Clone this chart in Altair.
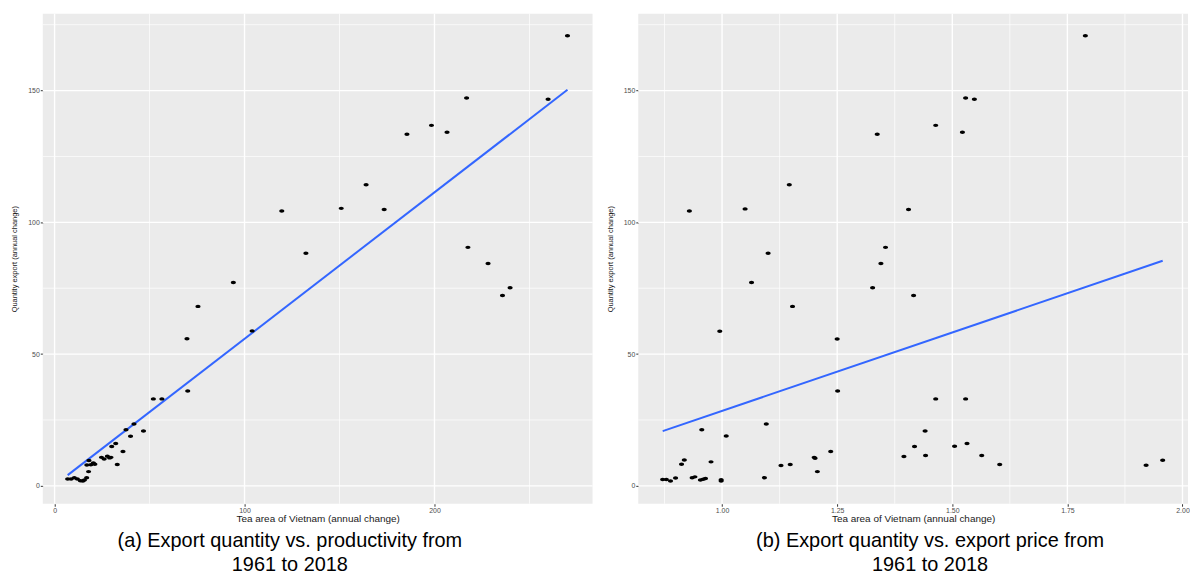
import altair as alt
import pandas as pd

# ---- data ----
left_x = [270.0, 259.8, 216.9, 198.4, 206.6, 185.5, 164.0, 150.9, 173.5, 119.6,
          132.3, 217.6, 228.2, 239.8, 235.8, 94.1, 75.5, 69.7, 104.0, 70.1,
          52.0, 56.5, 41.8, 37.6, 46.8, 40.0, 32.2, 30.1, 36.0, 33.0,
          24.7, 26.1, 27.8, 29.0, 29.7, 18.1, 20.4, 21.2, 17.0, 19.1,
          17.9, 16.9, 6.9, 8.7, 10.4, 12.0, 13.6, 14.9, 15.7]
left_y = [170.8, 146.7, 147.2, 136.8, 134.2, 133.4, 114.3, 105.3, 104.9, 104.3,
          88.3, 90.5, 84.4, 75.2, 72.2, 77.2, 68.1, 55.8, 58.8, 36.0,
          33.0, 33.0, 23.5, 21.3, 20.8, 18.8, 16.1, 14.9, 13.0, 8.1,
          10.8, 10.2, 11.2, 10.6, 10.8, 9.6, 8.7, 8.2, 7.9, 8.0,
          5.4, 3.1, 2.6, 2.6, 3.1, 2.6, 1.9, 1.8, 2.2]

right_x = [1.789, 1.548, 1.529, 1.464, 1.522, 1.337, 1.146, 1.050, 1.405, 0.929,
           1.100, 1.355, 1.345, 1.327, 1.416, 1.064, 1.153, 0.995, 1.250, 1.251,
           1.464, 1.529, 1.096, 0.956, 1.441, 1.009, 1.532, 1.505, 1.418, 1.236,
           1.442, 1.564, 1.395, 1.200, 1.202, 0.918, 1.957, 0.976, 0.912, 1.148,
           1.603, 1.921, 1.128, 1.207, 1.092, 0.871, 0.879, 0.888, 0.899, 0.935,
           0.941, 0.953, 0.959, 0.964, 0.998, 0.998]
right_y = [170.8, 146.7, 147.2, 136.8, 134.2, 133.4, 114.3, 105.1, 104.9, 104.3,
           88.3, 90.5, 84.4, 75.2, 72.2, 77.2, 68.1, 58.7, 55.7, 36.0,
           33.0, 33.0, 23.5, 21.3, 20.8, 18.9, 16.1, 15.0, 14.9, 13.0,
           11.5, 11.5, 11.1, 10.8, 10.5, 9.8, 9.7, 9.1, 8.2, 8.1,
           8.1, 7.8, 7.7, 5.4, 3.1, 2.4, 2.4, 1.8, 3.0, 3.1,
           3.4, 2.2, 2.5, 2.8, 2.3, 1.8]

y_major = [0, 50, 100, 150]
y_minor = [25, 75, 125, 175]
left_x_major = [0, 100, 200]
left_x_minor = [50, 150, 250]
right_x_major = [1.00, 1.25, 1.50, 1.75, 2.00]
right_x_minor = [0.875, 1.125, 1.375, 1.625, 1.875]

x_title = "Tea area of Vietnam (annual change)"
y_title = "Quantity export (annual change)"
caption_a = ["(a) Export quantity vs. productivity from", "1961 to 2018"]
caption_b = ["(b) Export quantity vs. export price from", "1961 to 2018"]

FONT = "Liberation Sans"
ELLIPSE = "M-1,0A1,0.68,0,1,0,1,0A1,0.68,0,1,0,-1,0Z"


def panel(xs, ys, xmaj, xmin, xdomain, xfmt, caption, dx):
    pts = pd.DataFrame({"x": xs, "y": ys})
    xscale = alt.Scale(domain=xdomain, nice=False, zero=False)
    yscale = alt.Scale(domain=[-6.8, 179.2], nice=False, zero=False)
    xaxis = alt.Axis(title=x_title, values=xmaj, format=xfmt, grid=False,
                     domain=False, tickColor="#333333", tickSize=2.5, tickWidth=1,
                     labelFont=FONT, labelFontSize=7, labelColor="#4D4D4D",
                     labelPadding=0.5, titleFont=FONT, titleFontSize=10,
                     titleFontWeight="normal", titleColor="#1A1A1A",
                     titlePadding=0)
    yaxis = alt.Axis(title=y_title, values=y_major, format="d", grid=False,
                     domain=False, tickColor="#333333", tickSize=2.5, tickWidth=1,
                     labelFont=FONT, labelFontSize=7, labelColor="#4D4D4D",
                     labelPadding=1, titleFont=FONT, titleFontSize=7.5,
                     titleFontWeight="normal", titleColor="#1A1A1A",
                     titlePadding=9)

    def X(f):
        return alt.X(f"{f}:Q", scale=xscale, axis=xaxis)

    def Y(f):
        return alt.Y(f"{f}:Q", scale=yscale, axis=yaxis)

    gx_min = alt.Chart(pd.DataFrame({"x": xmin})).mark_rule(
        color="white", strokeWidth=0.7).encode(x=X("x"))
    gy_min = alt.Chart(pd.DataFrame({"y": y_minor})).mark_rule(
        color="white", strokeWidth=0.7).encode(y=Y("y"))
    gx_maj = alt.Chart(pd.DataFrame({"x": xmaj})).mark_rule(
        color="white", strokeWidth=1.4).encode(x=X("x"))
    gy_maj = alt.Chart(pd.DataFrame({"y": y_major})).mark_rule(
        color="white", strokeWidth=1.4).encode(y=Y("y"))
    fit = alt.Chart(pts).transform_regression("x", "y").mark_line(
        color="#3366FF", strokeWidth=2).encode(x=X("x"), y=Y("y"))
    dots = alt.Chart(pts).mark_point(
        shape=ELLIPSE, filled=True, color="black", size=26, opacity=1
    ).encode(x=X("x"), y=Y("y"))

    return alt.layer(gx_min, gy_min, gx_maj, gy_maj, fit, dots).properties(
        width=553, height=493,
        title=alt.TitleParams(caption, orient="bottom", anchor="middle",
                              frame="group", font=FONT, fontSize=20,
                              fontWeight="normal", color="black",
                              lineHeight=24, offset=8, dx=dx))


left = panel(left_x, left_y, left_x_major, left_x_minor, [-6.2, 283.2], "d",
             caption_a, -28)
right = panel(right_x, right_y, right_x_major, right_x_minor, [0.818, 2.012],
              ".2f", caption_b, 17)

chart = alt.hconcat(left, right, spacing=12).properties(
    padding={"left": 2, "top": 3, "right": 0, "bottom": 0},
    background="white"
).configure_view(fill="#EBEBEB", strokeWidth=0)

chart.save("out.html", embed_options={"renderer": "svg", "actions": False})
